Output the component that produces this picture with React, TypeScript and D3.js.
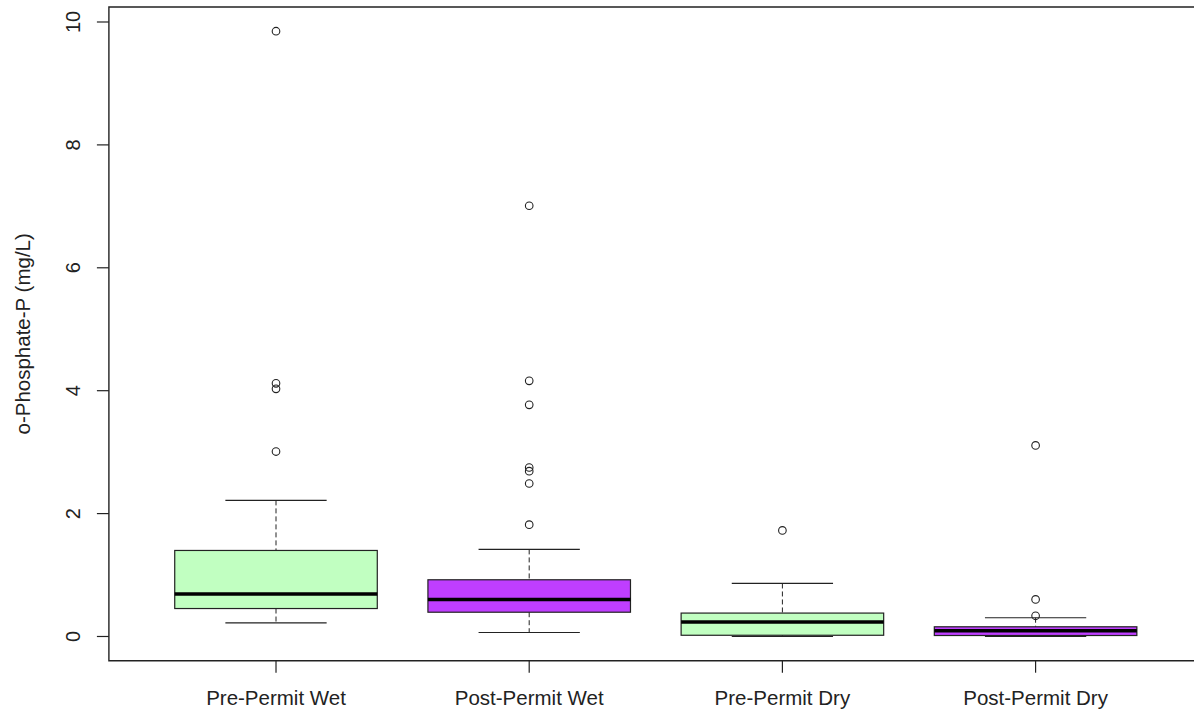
import React from "react";
import * as d3 from "d3";

const categories = ["Pre-Permit Wet", "Post-Permit Wet", "Pre-Permit Dry", "Post-Permit Dry"];
const lowerWhisker = [0.22, 0.065, 0.0, 0.0];
const q1 = [0.455, 0.395, 0.02, 0.016];
const median = [0.69, 0.6, 0.234, 0.093];
const q3 = [1.4, 0.923, 0.381, 0.158];
const upperWhisker = [2.215, 1.417, 0.863, 0.305];
const outliers = [
  [9.85, 4.12, 4.03, 3.01],
  [7.01, 4.16, 3.77, 2.75, 2.69, 2.49, 1.82],
  [1.726],
  [3.11, 0.603, 0.337],
];
const fills = ["#C1FFC1", "#BF3EFF", "#C1FFC1", "#BF3EFF"];
const yTicks = [0, 2, 4, 6, 8, 10];

const W = 1194;
const H = 715;
const FONT = "'Liberation Sans', Arial, sans-serif";

export default function App() {
  const x = d3.scaleLinear().domain([0.34, 4.66]).range([108.9, 1202.7]);
  const y = d3.scaleLinear().domain([-0.394, 10.244]).range([660.7, 7]);
  const unit = x(1) - x(0);
  const boxHalf = 0.4 * unit;
  const stapleHalf = 0.2 * unit;
  const stroke = "#222";
  const [x0, x1] = x.range();
  const [y0, y1] = y.range();

  return (
    <svg width={W} height={H} style={{ position: "absolute", left: 0, top: 0, background: "#fff" }}>
      <rect x={0} y={0} width={W} height={H} fill="#fff" />
      {categories.map((c, i) => {
        const cx = x(i + 1);
        return (
          <g key={c}>
            <line x1={cx} x2={cx} y1={y(upperWhisker[i])} y2={y(q3[i])} stroke={stroke} strokeWidth={1} strokeDasharray="5,3" />
            <line x1={cx} x2={cx} y1={y(q1[i])} y2={y(lowerWhisker[i])} stroke={stroke} strokeWidth={1} strokeDasharray="5,3" />
            <line x1={cx - stapleHalf} x2={cx + stapleHalf} y1={y(upperWhisker[i])} y2={y(upperWhisker[i])} stroke={stroke} strokeWidth={1.2} />
            <line x1={cx - stapleHalf} x2={cx + stapleHalf} y1={y(lowerWhisker[i])} y2={y(lowerWhisker[i])} stroke={stroke} strokeWidth={1.2} />
            <rect x={cx - boxHalf} y={y(q3[i])} width={2 * boxHalf} height={y(q1[i]) - y(q3[i])} fill={fills[i]} stroke={stroke} strokeWidth={1.2} />
            <line x1={cx - boxHalf} x2={cx + boxHalf} y1={y(median[i])} y2={y(median[i])} stroke="#000" strokeWidth={3.5} />
            {outliers[i].map((v, j) => (
              <circle key={j} cx={cx} cy={y(v)} r={3.8} fill="none" stroke={stroke} strokeWidth={1.1} />
            ))}
          </g>
        );
      })}
      <path d={`M${x1 + 20},${y1}H${x0}V${y0}H${x1 + 20}`} fill="none" stroke={stroke} strokeWidth={1.4} />
      {yTicks.map((t) => (
        <g key={t}>
          <line x1={x0 - 12} x2={x0} y1={y(t)} y2={y(t)} stroke={stroke} strokeWidth={1.2} />
          <text
            transform={`translate(${x0 - 29},${y(t)}) rotate(-90)`}
            textAnchor="middle"
            fontFamily={FONT}
            fontSize={20}
            fill="#222"
          >
            {t}
          </text>
        </g>
      ))}
      {categories.map((c, i) => (
        <g key={c}>
          <line x1={x(i + 1)} x2={x(i + 1)} y1={y0} y2={y0 + 12} stroke={stroke} strokeWidth={1.2} />
          <text x={x(i + 1)} y={705} textAnchor="middle" fontFamily={FONT} fontSize={20.5} fill="#222">
            {c}
          </text>
        </g>
      ))}
      <text
        transform={`translate(30,${(y0 + y1) / 2}) rotate(-90)`}
        textAnchor="middle"
        fontFamily={FONT}
        fontSize={20.5}
        fill="#222"
      >
        o-Phosphate-P (mg/L)
      </text>
    </svg>
  );
}
